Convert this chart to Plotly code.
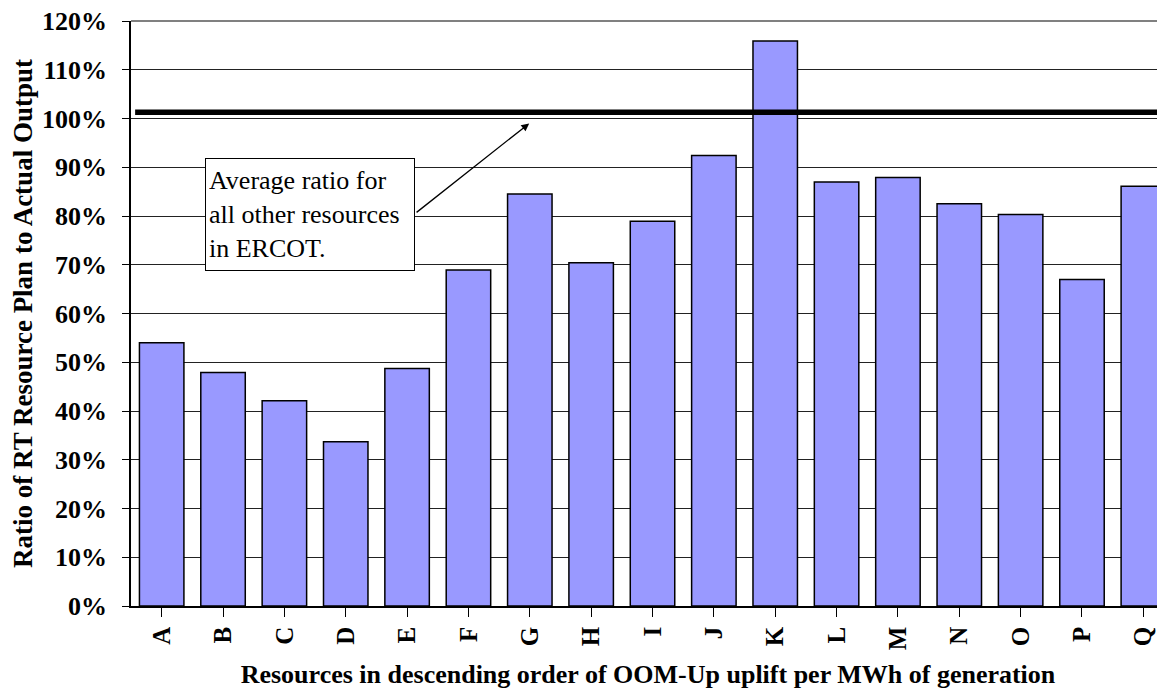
import plotly.graph_objects as go

# resources, ordered by OOM-Up uplift per MWh
resources = ["A", "B", "C", "D", "E", "F", "G", "H", "I",
             "J", "K", "L", "M", "N", "O", "P", "Q"]
ratio_pct = [54.0, 47.9, 42.1, 33.7, 48.7, 68.9, 84.5, 70.4, 78.9,
             92.4, 115.9, 87.0, 87.9, 82.5, 80.3, 67.0, 86.1]
avg_other_pct = 101.3
y_ticks = list(range(0, 121, 10))
y_tick_text = [f"{v}%" for v in y_ticks]

note_text = "Average ratio for<br>all other resources<br>in ERCOT."

serif = "Liberation Serif"

fig = go.Figure()
fig.add_trace(go.Bar(
    x=resources,
    y=ratio_pct,
    marker=dict(color="#9999FF", line=dict(color="#000000", width=1.5)),
    hoverinfo="x+y",
))

# average line for all other resources
fig.add_shape(type="line", xref="paper", yref="y",
              x0=0.004, x1=1, y0=avg_other_pct, y1=avg_other_pct,
              line=dict(color="#000000", width=5.5), layer="above")
# plot area top border
fig.add_shape(type="line", xref="paper", yref="paper",
              x0=0, x1=1, y0=1, y1=1,
              line=dict(color="#808080", width=2))

# arrow from text box to the average line
fig.add_annotation(x=5.99, y=99.0, ax=4.13, ay=80.5,
                   xref="x", yref="y", axref="x", ayref="y",
                   text="", showarrow=True, arrowhead=2, arrowsize=1.2,
                   arrowwidth=1.3, arrowcolor="#000000")
fig.add_annotation(x=0.705, y=91.9, xref="x", yref="y",
                   xanchor="left", yanchor="top",
                   text=note_text, showarrow=False, align="left",
                   font=dict(family=serif, size=26, color="#000000"),
                   bgcolor="#FFFFFF", bordercolor="#000000", borderwidth=1,
                   borderpad=3, width=202, height=105)

# page body adds 8px, so the figure is 8px smaller than the window
fig.update_layout(
    width=1157, height=681,
    margin=dict(l=123, r=0, t=13, b=83),
    paper_bgcolor="#FFFFFF", plot_bgcolor="#FFFFFF",
    font=dict(family=serif, color="#000000"),
    bargap=0.275,
    showlegend=False,
)
fig.update_xaxes(
    range=[-0.5, 16.353],
    showline=True, linecolor="#000000", linewidth=1.5,
    ticks="outside", ticklen=9, tickcolor="#000000",
    tickangle=-90,
    tickfont=dict(family=serif, size=25, color="#000000", weight="bold"),
    showgrid=False, automargin=False,
    title=dict(text="<b>Resources in descending order of OOM-Up uplift per MWh of generation</b>",
               font=dict(family=serif, size=26, color="#000000"), standoff=20),
)
fig.update_yaxes(
    range=[0, 120],
    tickvals=y_ticks, ticktext=y_tick_text,
    showline=True, linecolor="#000000", linewidth=1.5,
    ticks="outside", ticklen=7, tickcolor="#000000",
    ticklabelstandoff=10, ticklabeloverflow="allow",
    tickfont=dict(family=serif, size=26, color="#000000", weight="bold"),
    showgrid=True, gridcolor="#222222", gridwidth=1,
    zeroline=False, automargin=False,
    title=dict(text="<b>Ratio of RT Resource Plan to Actual Output</b>",
               font=dict(family=serif, size=27, color="#000000"), standoff=7),
)

fig.write_html("out.html")
